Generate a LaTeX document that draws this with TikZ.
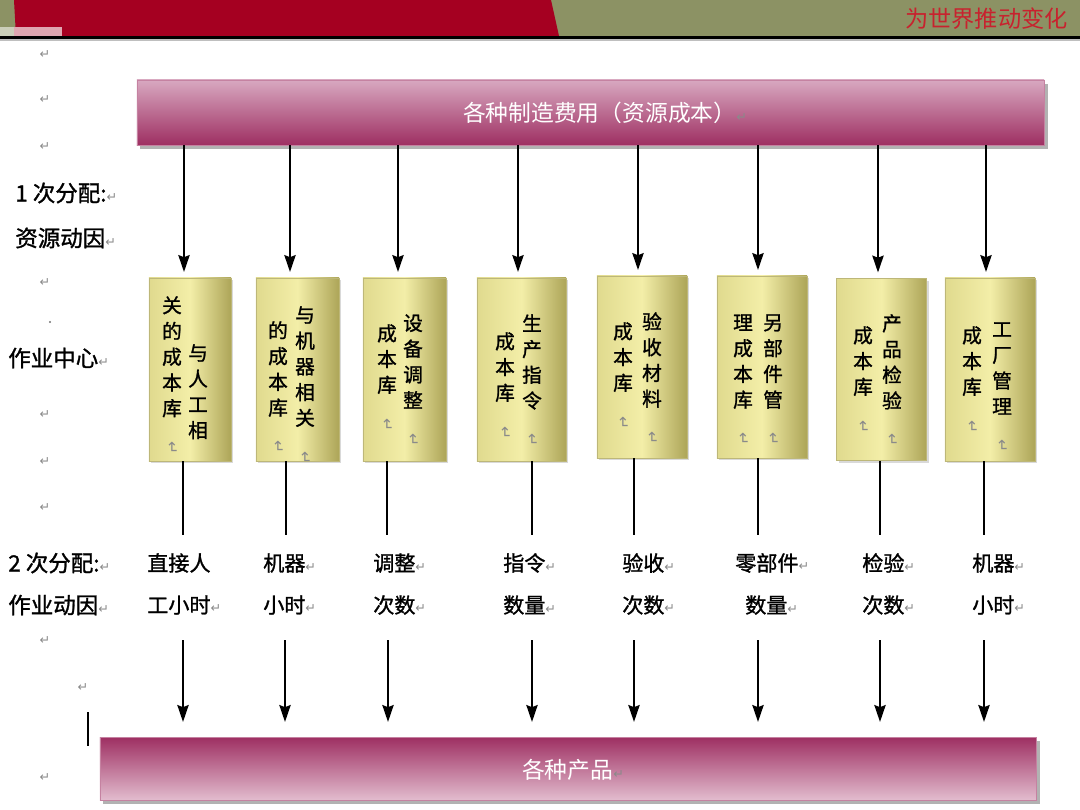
\documentclass[tikz,border=0pt]{standalone}
\usepackage{fontspec}
\setmainfont{Noto Sans CJK SC}
\newfontfamily\cjkb[FakeBold=1.2]{Noto Sans CJK SC}
\newfontfamily\djv{DejaVu Sans}
\usetikzlibrary{arrows.meta,shadows}
\definecolor{hdrolive}{HTML}{8C9264}
\definecolor{hdrred}{HTML}{A50021}
\definecolor{hdrtext}{HTML}{C8222E}
\definecolor{barlight}{HTML}{D8A8C0}
\definecolor{barlight2}{HTML}{E2BCCE}
\definecolor{bardark}{HTML}{9E2F62}
\definecolor{boxl}{HTML}{E0DA8E}
\definecolor{boxm}{HTML}{F3EEA8}
\definecolor{boxr}{HTML}{ADA558}
\definecolor{retgray}{HTML}{8A8A8A}
\newcommand\retm{{\djv\color{retgray}\fontsize{9}{9}\selectfont ↵}}
\newcommand\vretm{\rotatebox{-90}{{\djv\color{retgray}\fontsize{11}{11}\selectfont ↵}}}
\begin{document}
\begin{tikzpicture}[x=0.025cm,y=-0.025cm,
  bar/.style={draw=bardark!60, line width=0.4pt, inner sep=0pt,
    copy shadow={shadow xshift=2.5pt, shadow yshift=-3pt, fill=black!30, draw=none}},
  topbar/.style={bar, top color=barlight, bottom color=bardark},
  botbar/.style={bar, top color=bardark, bottom color=barlight2},
  ybox/.style={draw=boxr!80, line width=0.5pt, inner sep=0pt,
    left color=boxl, right color=boxr, middle color=boxm,
    copy shadow={shadow xshift=1.5pt, shadow yshift=-1.5pt, fill=black!15, draw=none}},
  vtxt/.style={align=center, inner sep=0pt, anchor=north, font=\cjkb\fontsize{14}{18.3}\selectfont},
  lbl/.style={anchor=west, inner sep=0pt, font=\cjkb\fontsize{16}{19}\selectfont},
  drv/.style={anchor=west, inner sep=0pt, font=\cjkb\fontsize{15}{18}\selectfont},
  bartext/.style={inner sep=0pt, text=white, font=\fontsize{16.2}{19}\selectfont},
  retn/.style={inner sep=0pt, text=retgray, font=\djv\fontsize{9}{9}\selectfont},
  conn/.style={line width=1.5pt},
  arr/.style={conn, -{Stealth[length=12pt,width=8pt,inset=1.5pt]}}
]
\useasboundingbox (0,0) rectangle (1080,810);
% header
\fill[hdrolive] (0,0) rectangle (1080,36);
\fill[hdrred] (14,0) -- (551,0) -- (559,36) -- (16,36) -- cycle;
\fill[color=hdrolive!45!white] (0,27) rectangle (14,36);
\fill[color=hdrred!35!white] (14,27) rectangle (62,36);
\fill[black!25] (0,38) rectangle (1080,41);
\fill[black] (0,35.5) rectangle (1080,38.5);
\node[inner sep=0pt, text=hdrtext, anchor=east, font=\fontsize{16.5}{18}\selectfont] (slogan) at (1068,19) {为世界推动变化};

% bars
\node[topbar, minimum width=22.675cm, minimum height=1.625cm] (top) at (590.5,112.5) {};
\node[bartext] (toptext) at (605,113) {各种制造费用（资源成本）\retm};
\node[botbar, minimum width=23.4cm, minimum height=1.575cm] (bot) at (568,768.5) {};
\node[bartext] (bottext) at (573,770) {各种产品\retm};

% activity center boxes
\node[ybox, minimum width=2.05cm, minimum height=4.575cm] (box1) at (190,369.5) {};
\node[ybox, minimum width=2.075cm, minimum height=4.575cm] (box2) at (297.5,369.5) {};
\node[ybox, minimum width=2.075cm, minimum height=4.575cm] (box3) at (404.5,369.5) {};
\node[ybox, minimum width=2.225cm, minimum height=4.575cm] (box4) at (521.5,369.5) {};
\node[ybox, minimum width=2.25cm, minimum height=4.55cm] (box5) at (642,367) {};
\node[ybox, minimum width=2.25cm, minimum height=4.55cm] (box6) at (762,367) {};
\node[ybox, minimum width=2.25cm, minimum height=4.55cm] (box7) at (881.5,369.5) {};
\node[ybox, minimum width=2.25cm, minimum height=4.575cm] (box8) at (990,369.5) {};

% vertical texts (right column first)
\node[vtxt] (b1r) at (198,344) {与\\人\\工\\相};
\node[vtxt] (b1l) at (172,296) {关\\的\\成\\本\\库\\\vretm};
\node[vtxt] (b2r) at (305,306) {与\\机\\器\\相\\关\\\vretm};
\node[vtxt] (b2l) at (278,321) {的\\成\\本\\库\\\vretm};
\node[vtxt] (b3r) at (413,314) {设\\备\\调\\整\\\vretm};
\node[vtxt] (b3l) at (387,324) {成\\本\\库\\\vretm};
\node[vtxt] (b4r) at (532,314) {生\\产\\指\\令\\\vretm};
\node[vtxt] (b4l) at (505,332) {成\\本\\库\\\vretm};
\node[vtxt] (b5r) at (652,312) {验\\收\\材\\料\\\vretm};
\node[vtxt] (b5l) at (623,322) {成\\本\\库\\\vretm};
\node[vtxt] (b6r) at (773,314) {另\\部\\件\\管\\\vretm};
\node[vtxt] (b6l) at (743,314) {理\\成\\本\\库\\\vretm};
\node[vtxt] (b7r) at (892,314) {产\\品\\检\\验\\\vretm};
\node[vtxt] (b7l) at (863,326) {成\\本\\库\\\vretm};
\node[vtxt] (b8r) at (1002,322) {工\\厂\\管\\理\\\vretm};
\node[vtxt] (b8l) at (972,326) {成\\本\\库\\\vretm};

% left labels
\node[lbl] (lab1) at (15,193) {1 次分配:\retm};
\node[lbl] (lab2) at (15,238) {资源动因\retm};
\node[lbl] (lab3) at (8,358) {作业中心\retm};
\node[lbl] (lab4) at (8,563) {2 次分配:\retm};
\node[lbl] (lab5) at (8,605) {作业动因\retm};

% activity drivers
\node[drv] (d1a) at (147,563) {直接人};
\node[drv] (d1b) at (147,605) {工小时\retm};
\node[drv] (d2a) at (263,563) {机器\retm};
\node[drv] (d2b) at (263,605) {小时\retm};
\node[drv] (d3a) at (373,563) {调整\retm};
\node[drv] (d3b) at (373,605) {次数\retm};
\node[drv] (d4a) at (503,563) {指令\retm};
\node[drv] (d4b) at (503,605) {数量\retm};
\node[drv] (d5a) at (622,563) {验收\retm};
\node[drv] (d5b) at (622,605) {次数\retm};
\node[drv] (d6a) at (735,563) {零部件\retm};
\node[drv] (d6b) at (745,605) {数量\retm};
\node[drv] (d7a) at (862,563) {检验\retm};
\node[drv] (d7b) at (862,605) {次数\retm};
\node[drv] (d8a) at (972,563) {机器\retm};
\node[drv] (d8b) at (972,605) {小时\retm};

% stray paragraph marks
\node[retn] (r1) at (45,55) {↵};
\node[retn] (r2) at (45,100) {↵};
\node[retn] (r3) at (45,147) {↵};
\node[retn] (r4) at (45,283) {↵};
\node[retn] (r5) at (45,415) {↵};
\node[retn] (r6) at (45,462) {↵};
\node[retn] (r7) at (45,508) {↵};
\node[retn] (r8) at (45,641) {↵};
\node[retn] (r9) at (83,688) {↵};
\node[retn] (r10) at (45,778) {↵};
\fill[black!55] (50,322) circle (1.1);
\draw[line width=1.6pt] (88,712) -- (88,746);

% connector x positions
\foreach \i/\x in {1/184,2/290,3/398,4/518,5/638,6/758,7/878,8/986}
  \coordinate (t\i) at (\x,0);
\foreach \i/\x in {1/183,2/286,3/387,4/532,5/634,6/758,7/880,8/984}
  \coordinate (l\i) at (\x,535);
\foreach \i/\x in {1/183,2/285,3/388,4/532,5/634,6/758,7/880,8/984}
  \coordinate (u\i) at (\x,640);

% first allocation arrows
\foreach \i in {1,...,8}
  \draw[arr, shorten >=4pt] (top.south -| t\i) -- (box\i.north -| t\i);
% lines below boxes
\foreach \i in {1,...,8}
  \draw[conn] (box\i.south -| l\i) -- (l\i);
% second allocation arrows
\foreach \i in {1,...,8}
  \draw[arr, shorten >=10.5pt] (u\i) -- (bot.north -| u\i);
\end{tikzpicture}
\end{document}
